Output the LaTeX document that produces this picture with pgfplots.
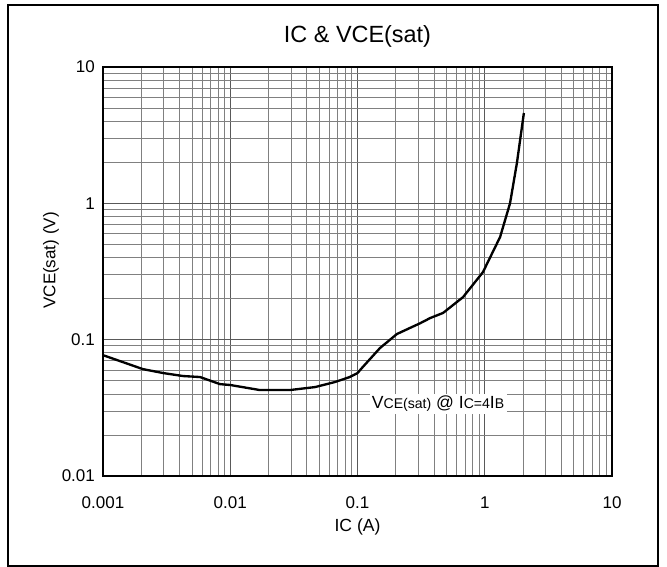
\documentclass[border=0pt]{standalone}
\usepackage{pgfplots}
\pgfplotsset{compat=1.18}
\usepackage{fontspec}
\setmainfont{Liberation Sans}

\newcommand{\sub}[1]{{\fontsize{12}{13}\selectfont #1}}

\begin{document}
\begin{tikzpicture}
% page size and outer frame (0.03cm per reference pixel)
\path (-3.09cm,-2.73cm) rectangle (16.92cm,14.28cm);
\draw[line width=1.6pt] (-2.85cm,-2.70cm) rectangle (16.65cm,14.13cm);

\begin{axis}[
  at={(0,0)}, anchor=south west,
  scale only axis,
  width=15.27cm, height=12.27cm,
  xmode=log, ymode=log,
  xmin=0.001, xmax=10, ymin=0.01, ymax=10,
  xtick={0.001,0.01,0.1,1,10},
  xticklabels={0.001,0.01,0.1,1,10},
  ytick={0.01,0.1,1,10},
  yticklabels={0.01,0.1,1,10},
  major tick length=0pt, minor tick length=0pt,
  grid=both,
  major grid style={line width=0.7pt,draw=black!65},
  minor grid style={line width=0.7pt,draw=black!50},
  axis line style={line width=0.9pt,black},
  tick label style={font=\fontsize{14.5}{16}\selectfont},
  /pgf/number format/assume math mode=true,
  xticklabel style={yshift=-0.5cm},
  yticklabel style={xshift=-0.12cm},
  title={IC \& VCE(sat)},
  title style={font=\fontsize{20}{22}\selectfont,
               at={(axis description cs:0.5,1.0587)},anchor=center},
  xlabel={IC (A)},
  xlabel style={font=\fontsize{15}{17}\selectfont,
                at={(axis description cs:0.5,-0.125)},anchor=center},
  ylabel={VCE(sat) (V)},
  ylabel style={font=\fontsize{14.5}{16}\selectfont,
                at={(axis description cs:-0.102,0.527)},anchor=center},
]
\addplot[black, line width=2pt, line join=round] coordinates {
  (0.001,0.077) (0.00206,0.0608) (0.00297,0.0569) (0.00426,0.0541)
  (0.00579,0.0532) (0.0083,0.0472) (0.01,0.0465) (0.0171,0.0427)
  (0.0294,0.0427) (0.0464,0.0449) (0.0665,0.0489) (0.087,0.0532)
  (0.1,0.0569) (0.11,0.063) (0.15,0.0867) (0.204,0.110)
  (0.259,0.122) (0.311,0.132) (0.372,0.144) (0.470,0.157)
  (0.675,0.205) (0.968,0.313) (1.32,0.566) (1.58,1.0)
  (1.79,1.98) (2.03,4.6)
};
\node[fill=white, inner sep=2pt, font=\fontsize{15}{17}\selectfont]
  at (axis cs:0.43,0.0337) {V\sub{CE(sat)} @ I\sub{C=4}I\sub{B}};
\end{axis}
\end{tikzpicture}
\end{document}
